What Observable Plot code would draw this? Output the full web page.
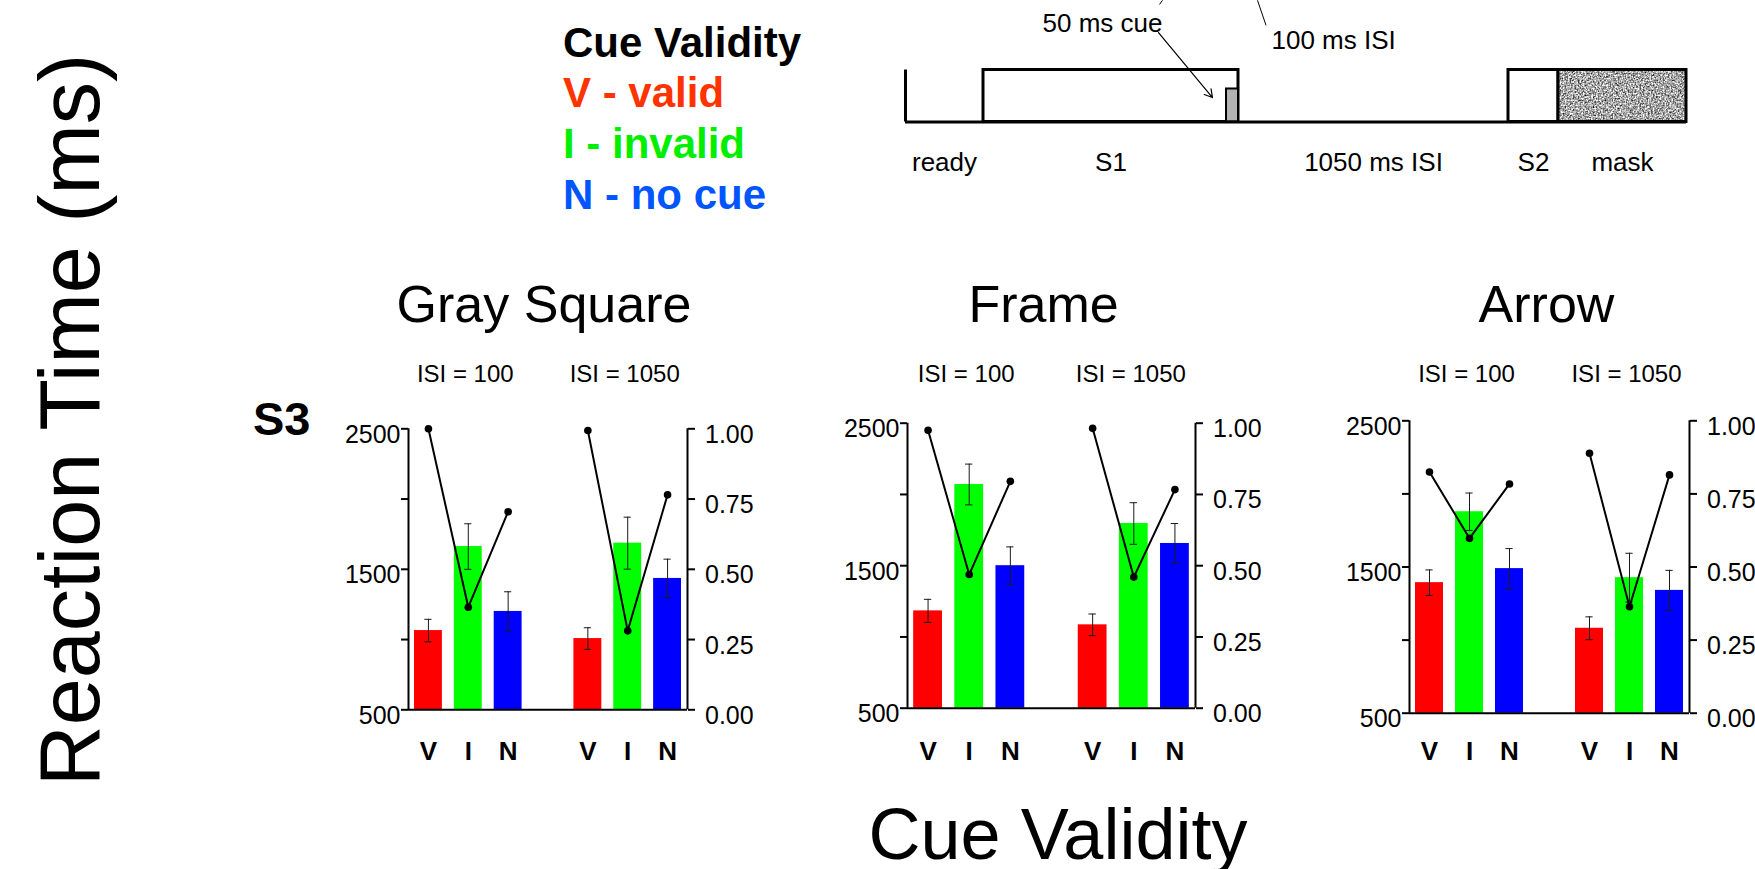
<!DOCTYPE html>
<html>
<head>
<meta charset="utf-8">
<script src="https://cdn.jsdelivr.net/npm/d3@7"></script>
<script src="https://cdn.jsdelivr.net/npm/@observablehq/plot@0.6"></script>
<style>
  html, body { margin: 0; padding: 0; background: #fff; overflow: hidden; }
  #root { position: relative; width: 1755px; height: 869px; overflow: hidden; background: #fff; }
  #root > svg { position: absolute; }
</style>
</head>
<body>
<div id="root"></div>
<svg width="1" height="1" style="position:absolute;left:-10px;top:-10px">
  <defs>
    <filter id="noiseFilter" x="0" y="0" width="100%" height="100%" color-interpolation-filters="sRGB" filterUnits="objectBoundingBox">
      <feTurbulence type="fractalNoise" baseFrequency="0.6" numOctaves="3" seed="4"/>
      <feColorMatrix type="matrix" values="1.6 0 0 0 -0.15  1.6 0 0 0 -0.15  1.6 0 0 0 -0.15  0 0 0 0 1"/>
    </filter>
    <pattern id="maskNoise" patternUnits="userSpaceOnUse" x="0" y="0" width="300" height="200">
      <rect x="0" y="0" width="300" height="200" fill="#999" filter="url(#noiseFilter)"/>
    </pattern>
  </defs>
</svg>
<script>
const FONT = '"Liberation Sans", Arial, Helvetica, sans-serif';

// ---------------- data ----------------
const validity = ["V", "I", "N"];
const validityNames = ["V - valid", "I - invalid", "N - no cue"];
const isiLabels = ["ISI = 100", "ISI = 1050"];
const cueTypes = ["Gray Square", "Frame", "Arrow"];
const subjectLabel = "S3";

// reaction times (ms), order: ISI100 V,I,N then ISI1050 V,I,N
const rtGray  = [1064, 1662, 1200, 1007, 1686, 1435];
const seGray  = [80, 162, 140, 77, 185, 137];
const accGray = [1.00, 0.365, 0.705, 0.994, 0.281, 0.765];

const rtFrame  = [1183, 2070, 1500, 1085, 1796, 1656];
const seFrame  = [81, 143, 132, 76, 146, 140];
const accFrame = [0.975, 0.469, 0.796, 0.982, 0.46, 0.767];

const rtArrow  = [1393, 1878, 1489, 1081, 1427, 1340];
const seArrow  = [87, 128, 137, 78, 167, 137];
const accArrow = [0.825, 0.598, 0.784, 0.889, 0.364, 0.815];

const leftTicks = [500, 1000, 1500, 2000, 2500];
const leftTickLabels = ["500", "", "1500", "", "2500"];
const rightTicks = [0, 0.25, 0.5, 0.75, 1];

// timeline schematic (arbitrary schematic time units)
const timelineSegments = [
  {label: "ready", start: 0, end: 78, box: false},
  {label: "S1", start: 78, end: 333, box: true},
  {label: "1050 ms ISI", start: 333, end: 603, box: false},
  {label: "S2", start: 603, end: 653, box: true},
  {label: "mask", start: 653, end: 781, box: true}
];
const cueEvent = {start: 321, end: 333, level: 0.635};
const timelineNotes = [
  {text: "50 ms cue", x: 137, y: 1.74},
  {text: "100 ms ISI", x: 366, y: 1.40}
];
const timelineLeaders = [
  {x1: 253, y1: 1.72, x2: 307, y2: 0.47, arrow: true},
  {x1: 352, y1: 2.34, x2: 360.5, y2: 1.86, arrow: false},
  {x1: 257, y1: 2.34, x2: 254, y2: 2.26, arrow: false}
];

// colours
const barColors = ["#ff0000", "#00ff00", "#0000ff"];
const legendColors = ["#ff3300", "#00ee00", "#0055ff"];

// ---------------- layout ----------------
const root = document.getElementById("root");
function place(svg, left, top) {
  svg.style.position = "absolute";
  svg.style.left = left + "px";
  svg.style.top = top + "px";
  svg.style.maxWidth = "none";
  root.appendChild(svg);
}

// free text overlay
const overlay = d3.create("svg").attr("width", 1755).attr("height", 869)
  .style("font-family", FONT);
overlay.append("text").attr("x", 563).attr("y", 57).attr("font-size", 42)
  .attr("font-weight", "bold").attr("fill", "#000").text("Cue Validity");
validityNames.forEach((t, i) => {
  overlay.append("text").attr("x", 563).attr("y", 107 + i * 51).attr("font-size", 42)
    .attr("font-weight", "bold").attr("fill", legendColors[i]).text(t);
});
overlay.append("text").attr("x", 253).attr("y", 435).attr("font-size", 47)
  .attr("font-weight", "bold").text(subjectLabel);
overlay.append("text").attr("transform", "translate(99,420) rotate(-90)")
  .attr("text-anchor", "middle").attr("font-size", 84.5).text("Reaction Time (ms)");
overlay.append("text").attr("x", 1058).attr("y", 859)
  .attr("text-anchor", "middle").attr("font-size", 72).text("Cue Validity");
place(overlay.node(), 0, 0);

// ---------------- timeline ----------------
{
  const W = 840, H = 200, mL = 25;
  const tl = Plot.plot({
    width: W, height: H,
    marginLeft: mL, marginRight: W - mL - 781, marginTop: 69.5, marginBottom: H - 121.5,
    x: {domain: [0, 781], axis: null},
    y: {domain: [0, 1], axis: null},
    style: {fontFamily: FONT, background: "none", overflow: "visible"},
    marks: [
      Plot.rect(timelineSegments.filter(d => d.box && d.label !== "mask"),
        {x1: "start", x2: "end", y1: 0, y2: 1, fill: "white", stroke: "black", strokeWidth: 3}),
      Plot.rect(timelineSegments.filter(d => d.label === "mask"),
        {x1: "start", x2: "end", y1: 0, y2: 1, fill: "#a0a0a1", stroke: "black", strokeWidth: 3}),
      Plot.rect([cueEvent], {x1: "start", x2: "end", y1: 0, y2: "level", fill: "#b3b3b3", stroke: "black", strokeWidth: 2}),
      Plot.ruleY([0], {x1: 0, x2: 781, stroke: "black", strokeWidth: 3}),
      Plot.ruleX([0], {y1: 0, y2: 1, stroke: "black", strokeWidth: 3}),
      Plot.text(timelineSegments, {x: d => (d.start + d.end) / 2, text: "label", frameAnchor: "bottom",
        lineAnchor: "bottom", dy: 48.5, fontSize: 26, fill: "black"}),
      Plot.text(timelineNotes, {x: "x", y: "y", text: "text", textAnchor: "start", lineAnchor: "bottom", fontSize: 26, fill: "black"}),
      Plot.link(timelineLeaders.filter(d => !d.arrow), {x1: "x1", y1: "y1", x2: "x2", y2: "y2", stroke: "black", strokeWidth: 1}),
      Plot.arrow(timelineLeaders.filter(d => d.arrow), {x1: "x1", y1: "y1", x2: "x2", y2: "y2", stroke: "black", strokeWidth: 1.2, headLength: 11})
    ]
  });
  tl.querySelectorAll('[fill="#a0a0a1"]').forEach(el => el.setAttribute("fill", "url(#maskNoise)"));
  place(tl, 880, 0);
}

// ---------------- panels ----------------
const panelLayout = [
  {L: 408, R: 687, T: 428.3, B: 709.3, titleDx: -4},
  {L: 907, R: 1195, T: 422.7, B: 707.7, titleDx: -8},
  {L: 1409, R: 1689, T: 420.3, B: 712.7, titleDx: -3}
];
const panelData = [
  {rt: rtGray, se: seGray, acc: accGray},
  {rt: rtFrame, se: seFrame, acc: accFrame},
  {rt: rtArrow, se: seArrow, acc: accArrow}
];
const toY = p => 500 + p * 2000;   // accuracy (right axis) expressed on the RT axis

cueTypes.forEach((title, pi) => {
  const {L, R, T, B, titleDx} = panelLayout[pi];
  const {rt, se, acc} = panelData[pi];
  const svgTop = 250, svgH = 530, mL = 75, mR = 90;
  const data = rt.map((v, k) => ({
    slot: k < 3 ? k : k + 1, group: k < 3 ? 0 : 1, cue: validity[k % 3], rt: v, se: se[k], acc: acc[k]
  }));
  const p = Plot.plot({
    width: (R - L) + mL + mR, height: svgH,
    marginLeft: mL, marginRight: mR, marginTop: T - svgTop, marginBottom: svgH - (B - svgTop),
    x: {domain: [-0.5, 6.5], axis: null},
    y: {domain: [500, 2500], axis: null},
    style: {fontFamily: FONT, background: "none", overflow: "visible"},
    marks: [
      ...validity.map((c, ci) => Plot.rect(data.filter(d => d.cue === c),
        {x1: d => d.slot - 0.35, x2: d => d.slot + 0.35, y1: 500, y2: "rt", fill: barColors[ci]})),
      Plot.ruleX(data, {x: "slot", y1: d => d.rt - d.se, y2: d => d.rt + d.se, stroke: "#1a1a1a", strokeWidth: 1}),
      Plot.ruleY(data, {y: d => d.rt + d.se, x1: d => d.slot - 0.09, x2: d => d.slot + 0.09, stroke: "#1a1a1a", strokeWidth: 1}),
      Plot.ruleY(data, {y: d => d.rt - d.se, x1: d => d.slot - 0.09, x2: d => d.slot + 0.09, stroke: "#1a1a1a", strokeWidth: 1}),
      Plot.line(data, {x: "slot", y: d => toY(d.acc), z: "group", stroke: "black", strokeWidth: 2}),
      Plot.dot(data, {x: "slot", y: d => toY(d.acc), r: 3.8, fill: "black", stroke: "none"}),
      Plot.ruleX([-0.5, 6.5], {y1: 500, y2: 2500, stroke: "black", strokeWidth: 2}),
      Plot.ruleY([500], {x1: -0.5, x2: 6.5, stroke: "black", strokeWidth: 2}),
      Plot.axisY({anchor: "left", ticks: leftTicks, tickSize: 7, tickFormat: () => "", label: null, strokeWidth: 2}),
      Plot.axisY({anchor: "right", ticks: rightTicks.map(toY), tickSize: 7, tickFormat: () => "", label: null, strokeWidth: 2}),
      Plot.text(leftTicks, {y: d => d, text: (d, i) => leftTickLabels[i], frameAnchor: "left",
        textAnchor: "end", dx: -8, dy: 6, fontSize: 25, fill: "black"}),
      Plot.text(rightTicks, {y: d => toY(d), text: d => d.toFixed(2), frameAnchor: "right",
        textAnchor: "start", dx: 17.5, dy: 6, fontSize: 25, fill: "black"}),
      Plot.text(isiLabels, {x: (d, i) => (i === 0 ? 1 : 5), text: d => d, frameAnchor: "top",
        lineAnchor: "bottom", dx: -3, dy: 381.5 - T, fontSize: 24, fill: "black"}),
      Plot.text([title], {frameAnchor: "top", lineAnchor: "bottom", dx: titleDx, dy: 321 - T, fontSize: 52, fill: "black"}),
      Plot.text(data, {x: "slot", text: "cue", frameAnchor: "bottom", lineAnchor: "bottom",
        dy: 759 - B, fontSize: 26, fontWeight: "bold", fill: "black"})
    ]
  });
  place(p, L - mL, svgTop);
});
</script>
</body>
</html>
